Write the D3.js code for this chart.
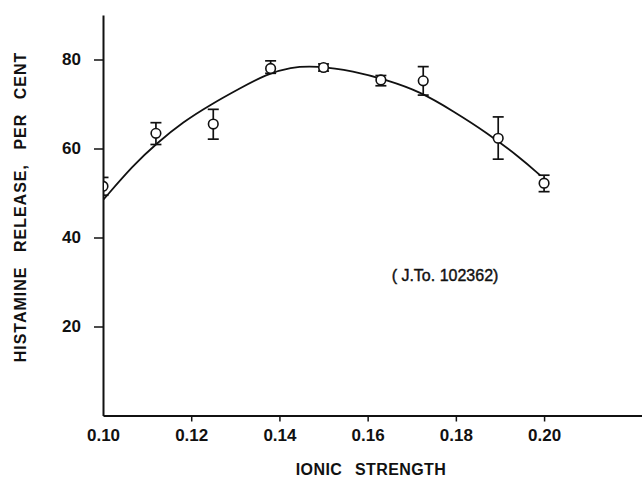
<!DOCTYPE html>
<html>
<head>
<meta charset="utf-8">
<script src="https://cdn.jsdelivr.net/npm/d3@7"></script>
<style>
    body { margin: 0; background: #fff; }
    svg text { font-family: "Liberation Sans", Arial, sans-serif; fill: #111; }
    .axis text { font-size: 17px; font-weight: bold; }
    .axis path, .axis line { stroke: #111; }
</style>
</head>
<body>
<div id="chart"></div>
<script>

// measured points (ionic strength vs histamine release %)
let ionicStrength = [0.100, 0.112, 0.125, 0.138, 0.150, 0.163, 0.1726, 0.1896, 0.200];
let release =       [51.5,  63.4,  65.5,  78.0,  78.2,  75.4,  75.2,   62.3,   52.2];
let errHigh =       [53.5,  65.8,  68.8,  79.7,  79.0,  76.4,  78.4,   67.1,   54.0];
let errLow =        [49.5,  60.9,  62.1,  76.9,  77.4,  74.1,  72.0,   57.6,   50.3];

// fitted curve
let curveX = [0.100, 0.1069, 0.1122, 0.1182, 0.1243, 0.131, 0.1371, 0.1424, 0.1485, 0.1568, 0.1643, 0.1719, 0.1794, 0.187, 0.1946, 0.1991];
let curveY = [48.4,  56.3,   61.2,   66.0,   69.8,   73.5,  76.7,   78.3,   78.6,   77.4,   75.4,   72.8,   68.4,   63.6,  57.9,   54.0];

let xTicks = [0.10, 0.12, 0.14, 0.16, 0.18, 0.20];
let yTicks = [20, 40, 60, 80];

let width = 642, height = 478;

let svg = d3.select("#chart").append("svg")
    .attr("width", width)
    .attr("height", height);

let x = d3.scaleLinear().domain([0.10, 0.2222]).range([103, 642]);
let y = d3.scaleLinear().domain([0, 90]).range([415.5, 15]);

// axes
let xAxis = svg.append("g")
    .attr("class", "axis x-axis")
    .attr("transform", `translate(0, ${y(0)})`)
    .call(d3.axisBottom(x).tickValues(xTicks).tickSize(6).tickSizeOuter(0).tickPadding(7)
        .tickFormat(d => d3.format(".2f")(d)));
xAxis.select(".domain").attr("stroke-width", 2);
xAxis.selectAll(".tick line").attr("stroke-width", 1.5);
xAxis.selectAll(".tick").filter(d => d === 0.10).select("line").remove();

let yAxis = svg.append("g")
    .attr("class", "axis y-axis")
    .attr("transform", `translate(${x(0.10)}, 0)`)
    .call(d3.axisLeft(y).tickValues(yTicks).tickSize(9).tickSizeOuter(0).tickPadding(13));
yAxis.select(".domain").attr("stroke-width", 2);
yAxis.selectAll(".tick line").attr("stroke-width", 1.5);

// axis titles
svg.append("text")
    .attr("x", 371)
    .attr("y", 475)
    .attr("text-anchor", "middle")
    .style("font-size", "16px")
    .style("font-weight", "bold")
    .style("letter-spacing", "0.4px")
    .style("word-spacing", "8px")
    .text("IONIC STRENGTH");

svg.append("text")
    .attr("transform", "translate(26, 207) rotate(-90)")
    .attr("text-anchor", "middle")
    .style("font-size", "16px")
    .style("font-weight", "bold")
    .style("letter-spacing", "1px")
    .style("word-spacing", "9px")
    .text("HISTAMINE RELEASE, PER CENT");

svg.append("text")
    .attr("x", 445)
    .attr("y", 281)
    .attr("text-anchor", "middle")
    .style("font-size", "16px")
    .style("stroke", "#111")
    .style("stroke-width", 0.4)
    .text("( J.To. 102362)");

// clip marks to the plot area (left of y axis hidden)
svg.append("clipPath").attr("id", "plotClip")
    .append("rect")
    .attr("x", x(0.10) + 1).attr("y", 0)
    .attr("width", width).attr("height", y(0));

let plot = svg.append("g").attr("clip-path", "url(#plotClip)");

let line = d3.line()
    .x((d, i) => x(d))
    .y((d, i) => y(curveY[i]))
    .curve(d3.curveBasis);

plot.append("path")
    .datum(curveX)
    .attr("d", line)
    .attr("fill", "none")
    .attr("stroke", "#111")
    .attr("stroke-width", 1.8);

let points = ionicStrength.map((d, i) => ({x: d, y: release[i], hi: errHigh[i], lo: errLow[i]}));

let capW = 5.5;
let bars = plot.selectAll(".err").data(points).enter().append("g").attr("class", "err")
    .attr("stroke", "#111").attr("stroke-width", 1.7);
bars.append("line")
    .attr("x1", d => x(d.x)).attr("x2", d => x(d.x))
    .attr("y1", d => y(d.hi)).attr("y2", d => y(d.lo));
bars.append("line")
    .attr("x1", d => x(d.x) - capW).attr("x2", d => x(d.x) + capW)
    .attr("y1", d => y(d.hi)).attr("y2", d => y(d.hi));
bars.append("line")
    .attr("x1", d => x(d.x) - capW).attr("x2", d => x(d.x) + capW)
    .attr("y1", d => y(d.lo)).attr("y2", d => y(d.lo));

plot.selectAll("circle").data(points).enter().append("circle")
    .attr("cx", d => x(d.x))
    .attr("cy", d => y(d.y))
    .attr("r", 4.8)
    .attr("fill", "#fff")
    .attr("stroke", "#111")
    .attr("stroke-width", 1.6);

</script>
</body>
</html>
